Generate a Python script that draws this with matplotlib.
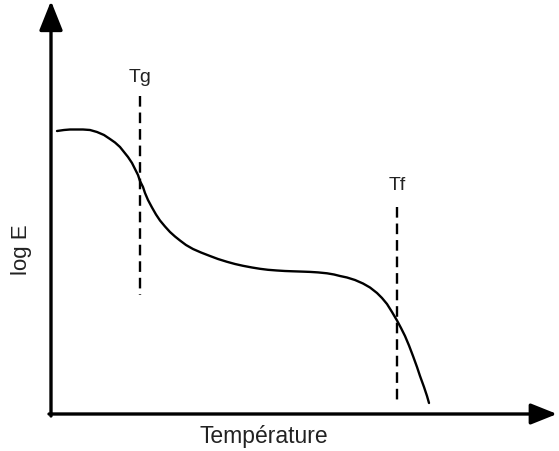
import matplotlib
matplotlib.use("Agg")
import matplotlib.pyplot as plt

# Curve data (arbitrary units: temperature, log E measured downward from top)
temperature = [57, 64, 70, 77, 83, 90, 97, 104, 110, 115, 120, 124, 128, 132,
               135, 138, 140, 143, 145, 148, 152, 156, 160, 165, 170, 175, 180,
               186, 193, 201, 210, 218, 227, 235, 243, 252, 260, 268, 277, 285,
               293, 302, 310, 318, 327, 334, 340, 347, 355, 363, 370, 377, 382,
               387, 392, 397, 401, 405, 409, 413, 417, 420, 424, 427, 429]
log_e_px = [132, 131, 130.5, 130.5, 130.5, 131, 133, 136, 140, 143.5, 148, 153,
            158, 164, 170, 176, 182, 188, 194, 201, 208.5, 215.5, 221.5, 227.5,
            233, 237.5, 241.5, 246, 250, 253.5, 257, 260, 262.8, 265, 266.8,
            268.5, 269.8, 270.8, 271.5, 272, 272.3, 272.6, 272.9, 273.4, 274.3,
            275.5, 277, 278.5, 281, 284.5, 288.5, 294, 299, 305, 313, 321.5, 329,
            337, 346.5, 357, 368, 377, 388, 397, 404]
H = 452
log_e = [H - v for v in log_e_px]

Tg = 140
Tg_span = [H - 97, H - 296]
Tf = 397
Tf_span = [H - 208, H - 403]

FONT = ['Liberation Sans Narrow', 'Liberation Sans', 'DejaVu Sans']

fig = plt.figure(figsize=(5.59, 4.52), dpi=100)
ax = fig.add_axes([0, 0, 1, 1])
ax.set_xlim(0, 559)
ax.set_ylim(0, 452)
ax.axis('off')

# axes with arrows
ax.annotate('', xy=(51, H - 2), xytext=(51, H - 417),
            arrowprops=dict(arrowstyle='-|>,head_length=0.9,head_width=0.36',
                            mutation_scale=20, lw=2.4, color='black',
                            shrinkA=0, shrinkB=0))
ax.annotate('', xy=(557, H - 415), xytext=(49, H - 415),
            arrowprops=dict(arrowstyle='-|>,head_length=0.8,head_width=0.32',
                            mutation_scale=20, lw=2.4, color='black',
                            shrinkA=0, shrinkB=0))

ax.plot(temperature, log_e, color='black', lw=1.7, solid_capstyle='round',
        solid_joinstyle='round')
ax.plot([Tg, Tg], Tg_span, color='black', lw=1.7, dashes=(4.5, 2.5))
ax.plot([Tf, Tf], Tf_span, color='black', lw=1.7, dashes=(4.5, 2.5))

ax.text(Tg, H - 78, 'Tg', ha='center', va='center', fontsize=14, family=FONT,
        color='#222222')
ax.text(Tf, H - 185, 'Tf', ha='center', va='center', fontsize=14, family=FONT,
        color='#222222')
ax.text(22, H - 250, 'log E', ha='center', va='center', rotation=90,
        fontsize=16, family=FONT, color='#222222')
ax.text(264, H - 437, 'Température', ha='center', va='center', fontsize=16.5,
        family=FONT, color='#222222')

fig.savefig('out.png', dpi=100)
